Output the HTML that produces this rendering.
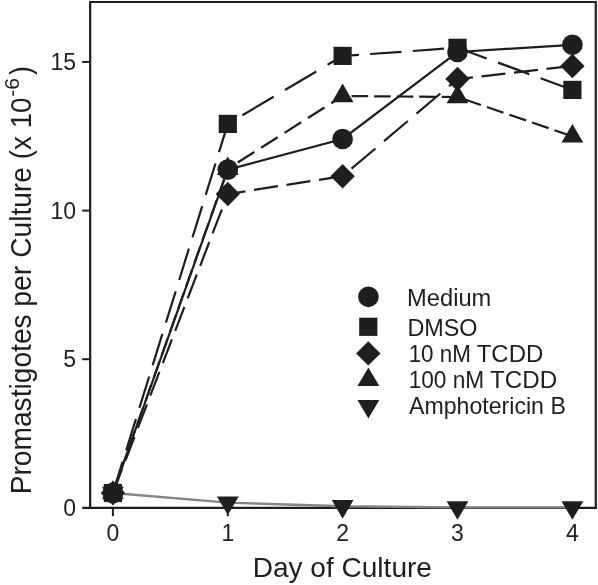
<!DOCTYPE html>
<html lang="en"><head><meta charset="utf-8"><title>Promastigotes per Culture</title>
<style>
html,body{margin:0;padding:0;background:#fff;}
body{width:598px;height:585px;overflow:hidden;}
svg{display:block;font-family:"Liberation Sans",Arial,Helvetica,sans-serif;filter:grayscale(1);}
</style></head><body>
<svg width="598" height="585" viewBox="0 0 598 585">
<rect width="598" height="585" fill="#fff"/>
<g fill="none" stroke="#1e1e1e" stroke-width="2.2">
<path d="M90.15 509 V2 H595.8 V507.9"/>
<path d="M82.2 507.9 H596.9"/>
<path d="M82.2 359.2 H90.15" stroke-width="2"/>
<path d="M82.2 210.6 H90.15" stroke-width="2"/>
<path d="M82.2 61.9 H90.15" stroke-width="2"/>
<path d="M112.9 507.9 V516.2" stroke-width="2"/>
<path d="M227.8 507.9 V516.2" stroke-width="2"/>
<path d="M342.6 507.9 V516.2" stroke-width="2"/>
<path d="M457.5 507.9 V516.2" stroke-width="2"/>
<path d="M572.4 507.9 V516.2" stroke-width="2"/>
</g>
<g fill="none" stroke-width="2.2" stroke="#1e1e1e">
<polyline points="112.9,493 227.8,502.6 342.6,506.3 457.5,507.4 572.4,507.4" stroke="#858585" stroke-width="2.4"/>
<path d="M112.9 493L122.6 461.7M126.2 450.4L135.9 419.1M139.4 407.8L149.2 376.5M152.7 365.2L162.4 333.9M165.9 322.6L175.7 291.3M179.2 280L188.9 248.7M192.5 237.4L202.2 206.1M205.7 194.8L215.5 163.5M219 152.2L227.8 123.9M228 123.8L231.1 121.9M242.4 115.2L273.7 96.7M285 90L316.3 71.5M327.6 64.8L342.6 55.9M342.6 55.9L358.9 54.8M370.2 54L401.5 51.8M412.8 51L444.1 48.7M455.4 47.9L457.5 47.8M457.5 47.8L486.7 58.5M498 62.6L529.3 74.1M540.6 78.2L571.9 89.7"/>
<path d="M112.9 493L118.7 476.5M121 470L126.9 453.5M129.2 447L135 430.5M137.3 424L143.2 407.5M145.5 401L151.3 384.5M153.6 378L159.5 361.5M161.8 355L167.6 338.5M169.9 332L175.8 315.5M178.1 309L183.9 292.5M186.2 286L192.1 269.5M194.4 263L200.2 246.5M202.5 240L208.4 223.5M210.7 217L216.5 200.5M218.8 194L224.7 177.5M227 171L227.8 168.8M228 168.7L230.9 166.8M237.7 162.5L254.3 152M261.1 147.7L277.7 137.2M284.5 132.9L301.1 122.3M307.9 118L324.5 107.5M331.3 103.2L342.6 96M342.6 96L342.8 96M342.8 96L345.6 96M351.6 96.1L368.2 96.2M374.1 96.3L390.7 96.4M396.7 96.5L413.3 96.6M419.2 96.7L435.8 96.8M441.8 96.9L457.5 97M457.5 97L458.4 97.3M464.3 99.3L480.9 105M486.9 107L503.5 112.7M509.4 114.7L526 120.4M532 122.5L548.6 128.1M554.5 130.2L571.1 135.9"/>
<path d="M112.9 493L122 469.2M125.4 460.6L134.5 436.8M137.8 428.1L147 404.3M150.3 395.6L159.4 371.9M162.8 363.2L171.9 339.4M175.2 330.8L184.4 306.9M187.7 298.3L196.8 274.5M200.2 265.8L209.3 242M212.6 233.4L221.8 209.6M225.1 200.9L227.8 194M228 194L245.4 191.3M254 189.9L277.9 186.2M286.5 184.9L310.4 181.2M319 179.9L342.6 176.2M342.6 176.2L342.9 176M351.5 168.7L375.4 148.5M384 141.2L407.9 121M416.5 113.7L440.4 93.5M449 86.2L457.5 79M457.5 79L472.9 77.3M481.5 76.3L505.4 73.6M514 72.6L537.9 69.9M546.5 68.9L570.4 66.2"/>
<polyline points="112.9,493 227.8,169.6 342.6,139 457.5,52 572.4,44.8"/>
</g>
<g fill="#1e1e1e">
<polygon points="112.9,505.4 123.8,486.8 102,486.8"/>
<polygon points="227.8,515 238.7,496.4 216.9,496.4"/>
<polygon points="342.6,518.7 353.5,500.1 331.8,500.1"/>
<polygon points="457.5,519.8 468.4,501.2 446.6,501.2"/>
<polygon points="572.4,519.8 583.3,501.2 561.5,501.2"/>
<polygon points="112.9,480.6 123.8,499.2 102,499.2"/>
<polygon points="227.8,156.4 238.7,175 216.9,175"/>
<polygon points="342.6,83.6 353.5,102.2 331.8,102.2"/>
<polygon points="457.5,84.6 468.4,103.2 446.6,103.2"/>
<polygon points="572.4,123.9 583.3,142.5 561.5,142.5"/>
<polygon points="112.9,480.8 125.1,493 112.9,505.2 100.7,493"/>
<polygon points="227.8,181.8 240,194 227.8,206.2 215.6,194"/>
<polygon points="342.6,164 354.8,176.2 342.6,188.4 330.4,176.2"/>
<polygon points="457.5,66.8 469.7,79 457.5,91.2 445.3,79"/>
<polygon points="572.4,53.8 584.6,66 572.4,78.2 560.2,66"/>
<rect x="103.8" y="483.9" width="18.2" height="18.2"/>
<rect x="218.7" y="114.8" width="18.2" height="18.2"/>
<rect x="333.5" y="46.8" width="18.2" height="18.2"/>
<rect x="448.4" y="38.7" width="18.2" height="18.2"/>
<rect x="563.3" y="80.8" width="18.2" height="18.2"/>
<circle cx="112.9" cy="493" r="10.35"/>
<circle cx="227.8" cy="169.6" r="10.35"/>
<circle cx="342.6" cy="139" r="10.35"/>
<circle cx="457.5" cy="52" r="10.35"/>
<circle cx="572.4" cy="44.8" r="10.35"/>
</g>
<g fill="#1e1e1e">
<circle cx="368.4" cy="296.8" r="10.35"/>
<rect x="359.2" y="317.7" width="18.2" height="18.2"/>
<polygon points="368.3,341.2 380.5,353.4 368.3,365.6 356.1,353.4"/>
<polygon points="368.4,367.5 379.3,386.1 357.5,386.1"/>
<polygon points="368.4,418.6 379.3,400 357.5,400"/>
</g>
<g fill="#1e1e1e" font-size="23.8">
<text transform="translate(407.01 305.5) scale(0.9963 1)">Medium</text>
<text transform="translate(407.44 335.7) scale(0.9817 1)">DMSO</text>
<text transform="translate(408.65 361.8) scale(0.9424 1)">10 nM</text>
<text transform="translate(476.70 361.8) scale(1.0078 1)">TCDD</text>
<text transform="translate(408.63 388.2) scale(0.9531 1)">100 nM</text>
<text transform="translate(490.09 388.2) scale(1.0155 1)">TCDD</text>
<text transform="translate(409.10 414.3) scale(0.9713 1)">Amphotericin B</text>
</g>
<g fill="#1e1e1e" font-size="23">
<text x="76" y="515.8" text-anchor="end">0</text>
<text x="76" y="367.1" text-anchor="end">5</text>
<text x="76" y="218.5" text-anchor="end">10</text>
<text x="76" y="69.8" text-anchor="end">15</text>
<text x="112.9" y="541.2" text-anchor="middle">0</text>
<text x="227.8" y="541.2" text-anchor="middle">1</text>
<text x="342.6" y="541.2" text-anchor="middle">2</text>
<text x="457.5" y="541.2" text-anchor="middle">3</text>
<text x="572.4" y="541.2" text-anchor="middle">4</text>
</g>
<text x="342.3" y="576.7" text-anchor="middle" font-size="28.05" fill="#1e1e1e">Day of Culture</text>
<g fill="#1e1e1e">
<text transform="translate(30.9 494.33) rotate(-90) scale(0.9520 1)" font-size="29.6">Promastigotes</text>
<text transform="translate(30.9 306.65) rotate(-90) scale(0.9574 1)" font-size="29.6">per</text>
<text transform="translate(30.9 257.65) rotate(-90) scale(0.9479 1)" font-size="29.6">Culture</text>
<text transform="translate(30.9 159.18) rotate(-90) scale(0.9383 1)" font-size="29.6">(x 10</text>
<text transform="translate(18.5 96.76) rotate(-90) scale(1.0060 1)" font-size="21.0">-6</text>
<text transform="translate(30.9 74.93) rotate(-90) scale(0.9014 1)" font-size="29.6">)</text>
</g>
</svg>
</body></html>
